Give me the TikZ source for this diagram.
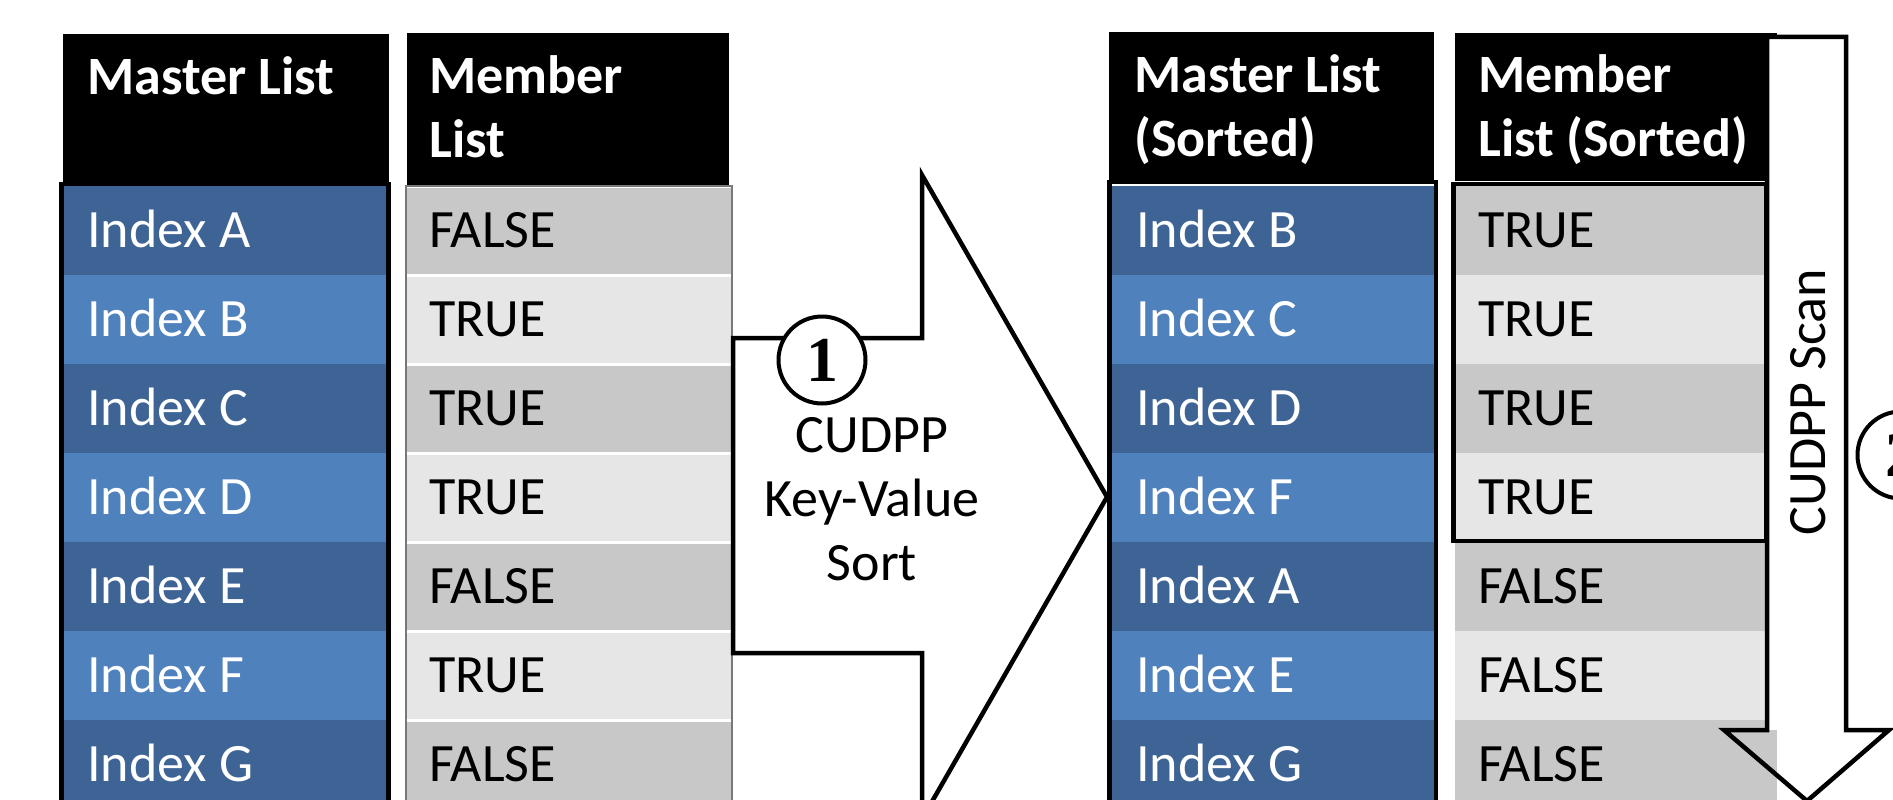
\documentclass[tikz,border=0pt]{standalone}
\usepackage{fontspec}
\setmainfont{Carlito}
\newfontfamily\numfont{Liberation Serif}
\definecolor{bluedark}{RGB}{62,100,150}\definecolor{bluelight}{RGB}{79,129,189}
\definecolor{graydark}{RGB}{200,200,200}\definecolor{graylight}{RGB}{230,230,230}
\definecolor{rimgray}{RGB}{120,120,120}
\tikzset{every node/.style={inner sep=0pt,font=\fontsize{54}{64}\selectfont},
  head/.style={anchor=base west,align=left,text=white,font=\fontsize{54}{64}\selectfont\bfseries},
  cell/.style={anchor=base west},frame/.style={draw=black,line width=4.5pt},
  blockarrow/.style={draw=black,line width=4.5pt,line join=miter},
  stepnum/.style={circle,draw=black,fill=white,line width=4pt,minimum size=87pt,font=\fontsize{64}{64}\selectfont\numfont\bfseries}}
\begin{document}
\begin{tikzpicture}[x=1pt,y=-1pt]
\useasboundingbox (0,0) rectangle (1893,800);\clip (0,0) rectangle (1893,800);
\fill (63,34) rectangle (389,184);\fill (407,33) rectangle (729,185);
\fill (1109,32) rectangle (1434,183);\fill (1455,33) rectangle (1777,181);
\node[head] (mhead) at (87,95) {Master List};\node[head] (fhead) at (429,157) {Member\\List};
\node[head] (smhead) at (1134,156) {Master List\\(Sorted)};\node[head] (sfhead) at (1478,156) {Member\\List (Sorted)};
\foreach \m/\f/\s [count=\i from 0] in {A/FALSE/dark,B/TRUE/light,C/TRUE/dark,D/TRUE/light,E/FALSE/dark,F/TRUE/light,G/FALSE/dark}{
  \pgfmathsetmacro\ry{186+89*\i}
  \fill[fill=blue\s] (64,\ry) rectangle (386,\ry+89);\fill[fill=gray\s] (407,\ry) rectangle (731,\ry+89);
  \draw[white,line width=3pt] (407,\ry) -- (731,\ry);
  \node[cell,text=white] (idx\m) at (87,\ry+61) {Index \m};\node[cell] (flag\m) at (429,\ry+61) {\f};}
\foreach \m/\f/\s [count=\i from 0] in {B/TRUE/dark,C/TRUE/light,D/TRUE/dark,F/TRUE/light,A/FALSE/dark,E/FALSE/light,G/FALSE/dark}{
  \pgfmathsetmacro\ry{186+89*\i}
  \fill[fill=blue\s] (1111,\ry) rectangle (1434,\ry+89);\fill[fill=gray\s] (1455,\ry) rectangle (1777,\ry+89);
  \node[cell,text=white] (sidx\m) at (1136,\ry+61) {Index \m};\node[cell] (sflag\m) at (1478,\ry+61) {\f};}
\draw[frame] (61.5,184) rectangle (388.5,830);\draw[frame] (1109.5,182) rectangle (1436,830);
\draw[rimgray,line width=1.5pt] (406,186) rectangle (732,830);\draw[frame] (1453.5,184) rectangle (1766,541);
\draw[blockarrow,fill=white] (733,338) -- (922,338) -- (922,175) -- (1107,497) -- (922,819) -- (922,653) -- (733,653) -- cycle;
\node[stepnum] (one) at (822,360) {1};
\node[align=center,anchor=base] (sorttxt) at (872,580) {CUDPP\\Key-Value\\Sort};
\fill[white] (1767,37) rectangle (1846,730);
\draw[blockarrow] (1767,37) -- (1846,37) -- (1846,730) -- (1889,730) -- (1807,801) -- (1724,730) -- (1767,730) -- cycle;
\node[rotate=90,anchor=base] (scantxt) at (1825,402) {CUDPP Scan};
\node[stepnum] (two) at (1901,455) {2};
\end{tikzpicture}
\end{document}
